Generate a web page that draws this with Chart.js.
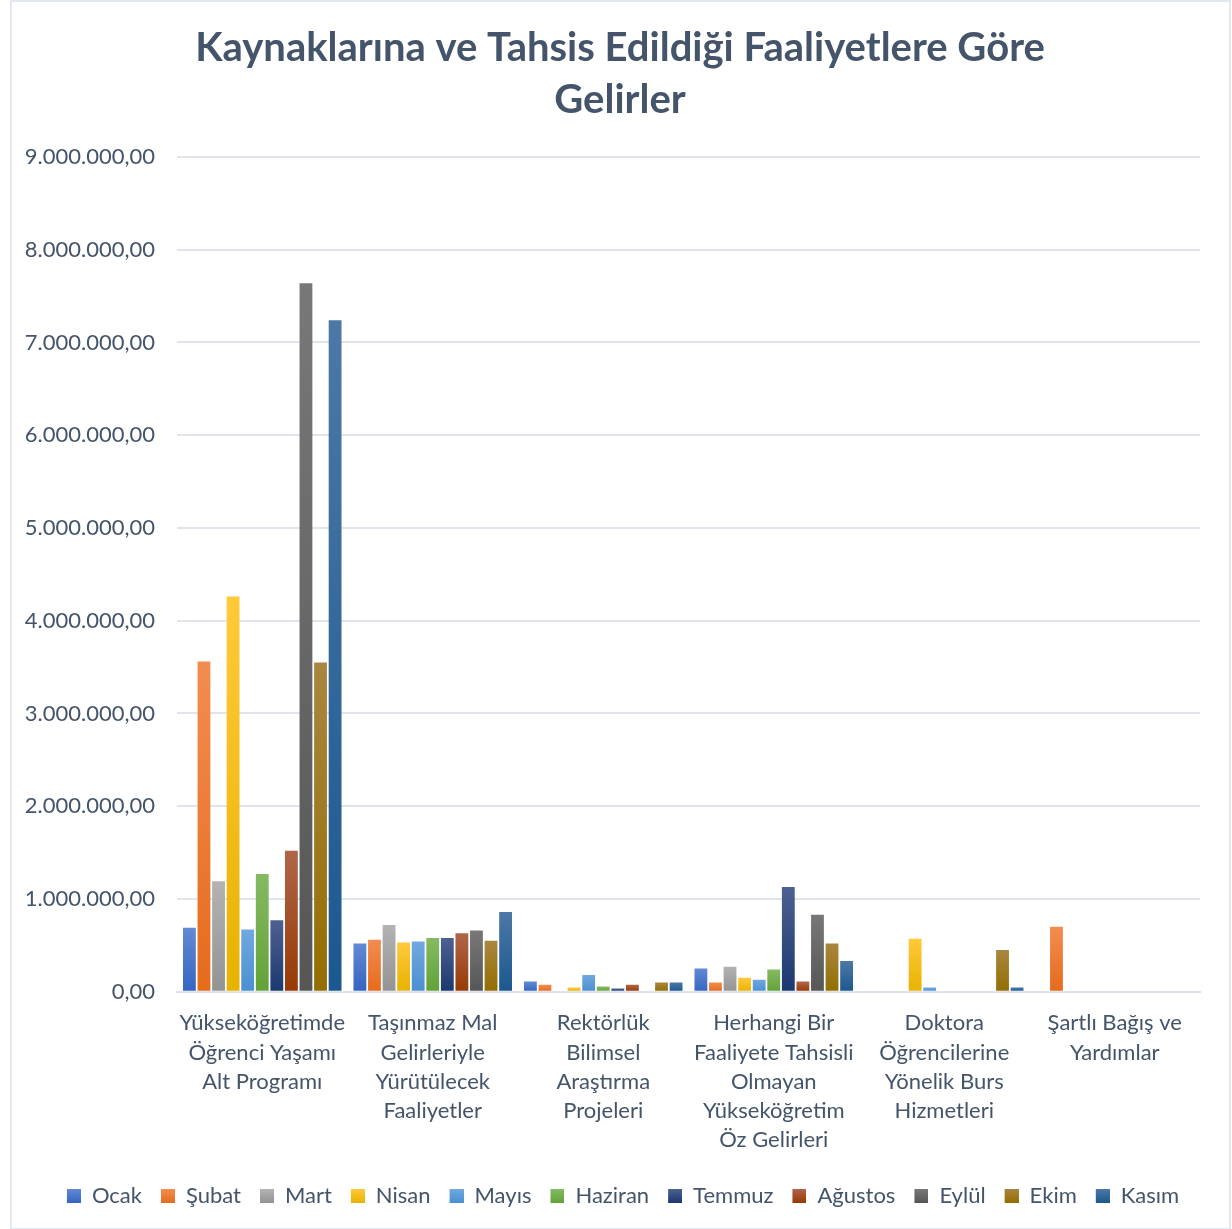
<!DOCTYPE html>
<html>
<head>
<meta charset="utf-8">
<script src="https://cdn.jsdelivr.net/npm/chart.js@4.4.1/dist/chart.umd.min.js"></script>
<style>
  html, body { margin: 0; padding: 0; background: #ffffff; }
  #wrap { position: relative; width: 1232px; height: 1229px; }
  #frame { position: absolute; left: 10px; top: 0px; width: 1217px; height: 1226px; border: 2px solid #e3e7ee; box-sizing: content-box; }
  canvas { position: absolute; left: 0; top: 0; }
</style>
</head>
<body>
<div id="wrap">
  <div id="frame"></div>
  <canvas id="c" width="1232" height="1229"></canvas>
</div>
<script>
const categories = [
  ["Yükseköğretimde", "Öğrenci Yaşamı", "Alt Programı"],
  ["Taşınmaz Mal", "Gelirleriyle", "Yürütülecek", "Faaliyetler"],
  ["Rektörlük", "Bilimsel", "Araştırma", "Projeleri"],
  ["Herhangi Bir", "Faaliyete Tahsisli", "Olmayan", "Yükseköğretim", "Öz Gelirleri"],
  ["Doktora", "Öğrencilerine", "Yönelik Burs", "Hizmetleri"],
  ["Şartlı Bağış ve", "Yardımlar"]
];
const months = ["Ocak", "Şubat", "Mart", "Nisan", "Mayıs", "Haziran", "Temmuz", "Ağustos", "Eylül", "Ekim", "Kasım"];

const ocak    = [690000, 520000, 110000, 250000, 0, 0];
const subat   = [3560000, 560000, 75000, 100000, 0, 700000];
const mart    = [1190000, 720000, 10000, 270000, 10000, 0];
const nisan   = [4260000, 530000, 45000, 150000, 570000, 0];
const mayis   = [670000, 540000, 180000, 130000, 45000, 0];
const haziran = [1270000, 580000, 55000, 240000, 0, 0];
const temmuz  = [770000, 580000, 35000, 1130000, 0, 0];
const agustos = [1520000, 630000, 75000, 110000, 0, 0];
const eylul   = [7640000, 660000, 10000, 830000, 0, 0];
const ekim    = [3550000, 550000, 100000, 520000, 450000, 0];
const kasim   = [7240000, 860000, 100000, 330000, 45000, 0];

const seriesValues = [ocak, subat, mart, nisan, mayis, haziran, temmuz, agustos, eylul, ekim, kasim];
const yTicks = [0, 1000000, 2000000, 3000000, 4000000, 5000000, 6000000, 7000000, 8000000, 9000000];

const colorsTop    = ["#6289d4", "#f38c50", "#b3b3b3", "#ffc93a", "#71a9e0", "#85ba62", "#4d6190", "#b0654a", "#787878", "#a98640", "#4c78a6"];
const colorsBottom = ["#3564c1", "#e56b1c", "#939393", "#e8b200", "#4a8fd0", "#62a237", "#1b3870", "#973a04", "#565656", "#936e00", "#1b588f"];
const colorsMid    = ["#4472c4", "#ed7d31", "#a5a5a5", "#ffc000", "#5b9bd5", "#70ad47", "#264478", "#9e480e", "#636363", "#997300", "#255e91"];

function fmt(v) {
  const s = Math.round(v).toString();
  let out = "";
  for (let i = 0; i < s.length; i++) {
    if (i > 0 && (s.length - i) % 3 === 0) out += ".";
    out += s[i];
  }
  return out + ",00";
}

function makeBg(i) {
  return function(ctx) {
    if (ctx.type !== 'data') return colorsMid[i];
    const chart = ctx.chart;
    const y = chart.scales && chart.scales.y;
    if (!y || !chart.chartArea) return colorsMid[i];
    const top = y.getPixelForValue(ctx.raw);
    const bottom = y.getPixelForValue(0);
    if (!isFinite(top) || !isFinite(bottom) || Math.abs(bottom - top) < 1) return colorsBottom[i];
    const g = chart.ctx.createLinearGradient(0, top, 0, bottom);
    g.addColorStop(0, colorsTop[i]);
    g.addColorStop(1, colorsBottom[i]);
    return g;
  };
}

// legend marker: 14px square placed at the right of a 20px slot
function legendIcon(i) {
  const c = document.createElement('canvas');
  c.width = 20; c.height = 14;
  const x = c.getContext('2d');
  const g = x.createLinearGradient(0, 0, 0, 14);
  g.addColorStop(0, colorsTop[i]);
  g.addColorStop(1, colorsBottom[i]);
  x.fillStyle = g;
  x.fillRect(6, 0, 14, 14);
  return c;
}
const legendIcons = months.map((m, i) => legendIcon(i));

const textColor = "#44546a";
const FONT = "Lato, 'Open Sans', sans-serif";

new Chart(document.getElementById('c'), {
  type: 'bar',
  data: {
    labels: categories,
    datasets: months.map((m, i) => ({
      label: m,
      data: seriesValues[i],
      backgroundColor: makeBg(i),
      borderWidth: 0,
      categoryPercentage: 0.94,
      barPercentage: 0.88
    }))
  },
  options: {
    responsive: false,
    animation: false,
    layout: { padding: { left: 10, right: 2, top: 22, bottom: 12 } },
    plugins: {
      title: {
        display: true,
        text: ["Kaynaklarına ve Tahsis Edildiği Faaliyetlere Göre", "Gelirler"],
        color: textColor,
        font: { family: FONT, size: 40, weight: 'bold', lineHeight: 1.3 },
        padding: { top: 0, bottom: 31 }
      },
      legend: {
        position: 'bottom',
        labels: {
          color: textColor,
          font: { family: FONT, size: 22 },
          usePointStyle: true,
          pointStyleWidth: 20,
          boxHeight: 14,
          padding: 13,
          generateLabels: (chart) => {
            const items = Chart.defaults.plugins.legend.labels.generateLabels(chart);
            items.forEach((it) => { it.pointStyle = legendIcons[it.datasetIndex]; });
            return items;
          }
        }
      },
      tooltip: { enabled: false }
    },
    scales: {
      x: {
        grid: { display: false, drawTicks: false },
        border: { display: true, color: "#dfe3ea", width: 2 },
        ticks: {
          color: textColor,
          font: { family: FONT, size: 22, lineHeight: 1.33 },
          padding: 17,
          maxRotation: 0,
          autoSkip: false
        }
      },
      y: {
        min: 0,
        max: 9000000,
        afterBuildTicks: (axis) => { axis.ticks = yTicks.map(v => ({ value: v })); },
        afterFit: (axis) => { axis.width = 167; },
        grid: { color: "#e1e5eb", lineWidth: 2, drawTicks: false },
        border: { display: false },
        ticks: {
          color: textColor,
          font: { family: FONT, size: 22 },
          padding: 22,
          callback: (v) => fmt(v)
        }
      },
      yRight: {
        position: 'right',
        display: true,
        min: 0,
        max: 9000000,
        grid: { display: false, drawTicks: false },
        border: { display: false },
        ticks: { display: false },
        afterFit: (axis) => { axis.width = 30; }
      }
    }
  }
});
</script>
</body>
</html>
